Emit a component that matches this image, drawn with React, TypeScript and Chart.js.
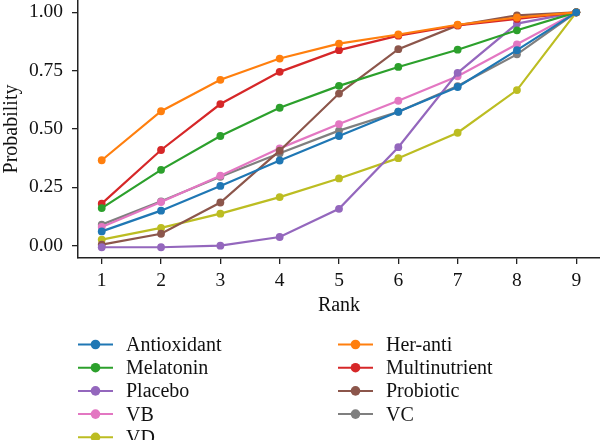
import { useEffect, useRef } from "react";
import { Chart, registerables } from "chart.js";

Chart.register(...registerables);

// Cumulative ranking probabilities per treatment (rank 1..9)
const ranks = [1, 2, 3, 4, 5, 6, 7, 8, 9];
const yTickValues = [0, 0.25, 0.5, 0.75, 1.0];

const antioxidant = [0.061, 0.15, 0.256, 0.365, 0.47, 0.574, 0.68, 0.838, 1.0];
const herAnti = [0.366, 0.576, 0.711, 0.802, 0.866, 0.905, 0.947, 0.978, 1.0];
const melatonin = [0.161, 0.325, 0.47, 0.591, 0.685, 0.766, 0.84, 0.923, 1.0];
const multinutrient = [0.18, 0.41, 0.607, 0.745, 0.838, 0.9, 0.944, 0.972, 1.0];
const placebo = [-0.007, -0.007, 0.0, 0.037, 0.158, 0.422, 0.741, 0.952, 1.0];
const probiotic = [0.004, 0.051, 0.185, 0.407, 0.652, 0.842, 0.944, 0.987, 1.0];
const vb = [0.08, 0.187, 0.3, 0.417, 0.521, 0.621, 0.726, 0.863, 1.0];
const vc = [0.09, 0.19, 0.295, 0.396, 0.493, 0.574, 0.684, 0.82, 1.0];
const vd = [0.026, 0.076, 0.137, 0.208, 0.288, 0.375, 0.484, 0.667, 1.0];

const seriesNames = [
  "Antioxidant",
  "Her-anti",
  "Melatonin",
  "Multinutrient",
  "Placebo",
  "Probiotic",
  "VB",
  "VC",
  "VD",
];
const seriesValues = [antioxidant, herAnti, melatonin, multinutrient, placebo, probiotic, vb, vc, vd];
const seriesColors = [
  "#1f77b4",
  "#ff7f0e",
  "#2ca02c",
  "#d62728",
  "#9467bd",
  "#8c564b",
  "#e377c2",
  "#7f7f7f",
  "#bcbd22",
];

// Legend order: filled column by column, two columns
const legendOrder = [
  "Antioxidant",
  "Melatonin",
  "Placebo",
  "VB",
  "VD",
  "Her-anti",
  "Multinutrient",
  "Probiotic",
  "VC",
];

const FONT = '"Liberation Serif", "Times New Roman", serif';

const columnLegend = {
  id: "columnLegend",
  afterDraw(chart: any) {
    const ctx = chart.ctx as CanvasRenderingContext2D;
    const datasets = chart.data.datasets;
    const rows = Math.ceil(legendOrder.length / 2);
    ctx.save();
    ctx.font = `20px ${FONT}`;
    ctx.textBaseline = "alphabetic";
    ctx.textAlign = "left";
    legendOrder.forEach((name, i) => {
      const ds = datasets.find((d: any) => d.label === name);
      if (!ds) return;
      const col = Math.floor(i / rows);
      const row = i % rows;
      const x0 = 78 + col * 260;
      const y = 344.5 + row * 23.2;
      ctx.strokeStyle = ds.borderColor;
      ctx.lineWidth = 2;
      ctx.beginPath();
      ctx.moveTo(x0, y);
      ctx.lineTo(x0 + 35, y);
      ctx.stroke();
      ctx.fillStyle = ds.borderColor;
      ctx.beginPath();
      ctx.arc(x0 + 17.5, y, 4.8, 0, Math.PI * 2);
      ctx.fill();
      ctx.fillStyle = "#111";
      ctx.fillText(name, x0 + 48, y + 6.5);
    });
    ctx.restore();
  },
};

export default function App() {
  const canvasRef = useRef<HTMLCanvasElement | null>(null);

  useEffect(() => {
    document.body.style.margin = "0";
    const canvas = canvasRef.current;
    if (!canvas) return;

    const datasets = seriesNames.map((name, i) => ({
      label: name,
      data: ranks.map((r, j) => ({ x: r, y: seriesValues[i][j] })),
      borderColor: seriesColors[i],
      backgroundColor: seriesColors[i],
      borderWidth: 2.2,
      pointRadius: 3.9,
      pointBorderWidth: 0,
      pointBackgroundColor: seriesColors[i],
      tension: 0,
      clip: false as any,
    }));

    const tickFont = { family: FONT, size: 19.5 };
    const titleFont = { family: FONT, size: 20 };

    const chart = new Chart(canvas, {
      type: "line",
      data: { datasets },
      plugins: [columnLegend],
      options: {
        animation: false,
        responsive: false,
        layout: { autoPadding: false, padding: { top: 0, right: 0, left: 0, bottom: 122 } },
        plugins: {
          legend: { display: false },
          tooltip: { enabled: false },
        },
        scales: {
          x: {
            type: "linear",
            min: 0.6,
            max: 9.4,
            afterBuildTicks: (s: any) => {
              s.ticks = ranks.map((v) => ({ value: v }));
            },
            afterFit: (s: any) => {
              s.height = 60;
              s.paddingLeft = 0;
              s.paddingRight = 0;
            },
            ticks: {
              font: tickFont,
              color: "#111",
              padding: 5,
              maxRotation: 0,
              callback: (v: any) => String(v),
            },
            grid: {
              drawOnChartArea: false,
              drawTicks: true,
              tickLength: 6,
              color: "#222",
              lineWidth: 1.3,
            },
            border: { display: true, color: "#222", width: 1.5 },
            title: {
              display: true,
              text: "Rank",
              font: titleFont,
              color: "#111",
              padding: { top: 3, bottom: 0 },
            },
          },
          y: {
            type: "linear",
            min: -0.053,
            max: 1.053,
            afterBuildTicks: (s: any) => {
              s.ticks = yTickValues.map((v) => ({ value: v }));
            },
            afterFit: (s: any) => {
              s.width = 78;
              s.paddingTop = 0;
              s.paddingBottom = 0;
            },
            ticks: {
              font: tickFont,
              color: "#111",
              padding: 9,
              callback: (v: any) => Number(v).toFixed(2),
            },
            grid: {
              drawOnChartArea: false,
              drawTicks: true,
              tickLength: 6,
              color: "#222",
              lineWidth: 1.3,
            },
            border: { display: true, color: "#222", width: 1.5 },
            title: {
              display: true,
              text: "Probability",
              font: titleFont,
              color: "#111",
              padding: { top: 0, bottom: 2 },
            },
          },
        },
      },
    });

    return () => chart.destroy();
  }, []);

  return (
    <div style={{ width: 600, height: 440, background: "#fff" }}>
      <canvas ref={canvasRef} width={600} height={440} style={{ display: "block" }} />
    </div>
  );
}
